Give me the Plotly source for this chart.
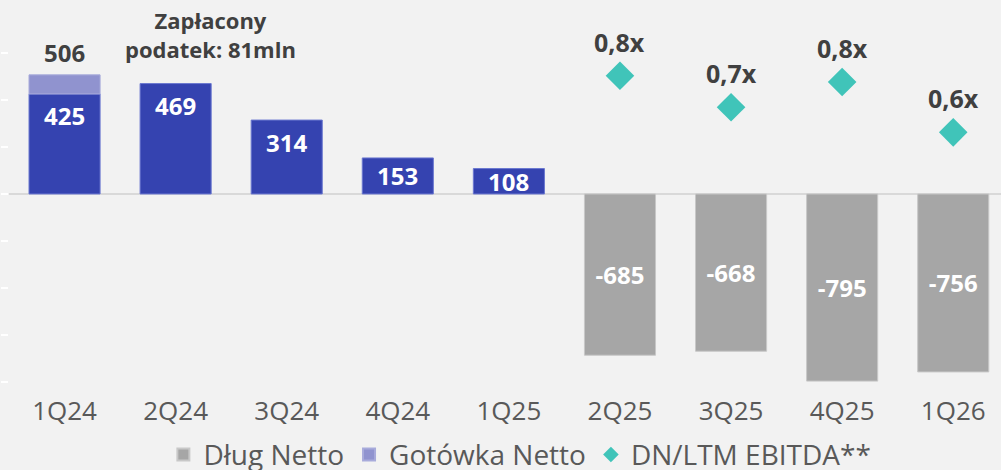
import plotly.graph_objects as go

categories = ["1Q24", "2Q24", "3Q24", "4Q24", "1Q25", "2Q25", "3Q25", "4Q25", "1Q26"]
cash_main = [425, 469, 314, 153, 108, None, None, None, None]
cash_extra = [81, None, None, None, None, None, None, None, None]
net_debt = [None, None, None, None, None, -685, -668, -795, -756]
leverage = [None, None, None, None, None, 0.78, 0.68, 0.76, 0.60]
total_1q24 = 506
tax_note = "Zapłacony<br>podatek: 81mln"

FONT = "Open Sans"
DARK = "#404040"
AX = "#595959"

W, H = 1001, 470
M_L, M_R, M_T, M_B = 9, 0, 0, 83
Y_RANGE = [-820, 824]
PX_PER_UNIT = (H - M_T - M_B) / (Y_RANGE[1] - Y_RANGE[0])

fig = go.Figure()

fig.add_trace(go.Bar(
    x=categories, y=cash_main, name="Gotówka Netto (q)", showlegend=False,
    marker=dict(color="#3543b0", line=dict(color="#6b78d0", width=1)),
    width=0.64,
))
fig.add_trace(go.Bar(
    x=categories, y=cash_extra, name="Gotówka Netto", legendrank=2,
    marker=dict(color="#9093cf", line=dict(color="#a8abdb", width=1)),
    width=0.64,
))
fig.add_trace(go.Bar(
    x=categories, y=net_debt, name="Dług Netto", legendrank=1,
    marker=dict(color="#a6a6a6", line=dict(color="#c8c8c8", width=1)),
    text=[("" if v is None else str(v)) for v in net_debt],
    textposition="inside", insidetextanchor="middle",
    textfont=dict(family=FONT, size=24, color="white", weight="bold"),
    width=0.64,
))
fig.add_trace(go.Scatter(
    x=categories, y=leverage, name="DN/LTM EBITDA**", legendrank=3,
    mode="markers", yaxis="y2",
    marker=dict(symbol="diamond", size=22, color="#40c4b9"),
))

annotations = []
# labels inside the dark bars, near the top (centred if the bar is short)
for c, v in zip(categories, cash_main):
    if v is None:
        continue
    half = v * PX_PER_UNIT / 2
    annotations.append(dict(
        x=c, y=v, xref="x", yref="y", yshift=-min(22, half), showarrow=False,
        text=str(v), font=dict(family=FONT, size=24, color="white", weight="bold"),
    ))
for c, v in zip(categories, leverage):
    if v is None:
        continue
    annotations.append(dict(
        x=c, y=v, yref="y2", xref="x", yshift=34, showarrow=False,
        text=f"{v:.1f}".replace(".", ",") + "x",
        font=dict(family=FONT, size=25, color=DARK, weight="bold"),
    ))
annotations.append(dict(
    x=categories[0], y=total_1q24, xref="x", yref="y", yshift=22, showarrow=False,
    text=str(total_1q24), font=dict(family=FONT, size=24, color=DARK, weight="bold"),
))
annotations.append(dict(
    x=1.31, y=0.91, xref="x", yref="paper", yanchor="middle", showarrow=False,
    text=tax_note, align="center",
    font=dict(family=FONT, size=22, color=DARK, weight="bold"),
))

fig.update_layout(
    width=W, height=H,
    margin=dict(l=M_L, r=M_R, t=M_T, b=M_B, autoexpand=False),
    paper_bgcolor="#f2f2f2", plot_bgcolor="#f2f2f2",
    barmode="relative", bargap=0.36,
    font=dict(family=FONT, color=AX),
    xaxis=dict(
        type="category", range=[-0.5, 8.43], showgrid=False, showline=False,
        tickfont=dict(family=FONT, size=26, color=AX), automargin=False,
        ticks="outside", ticklen=1, tickcolor="rgba(0,0,0,0)",
    ),
    yaxis=dict(
        range=Y_RANGE, showgrid=False, zeroline=True, zerolinecolor="#d9d9d9",
        zerolinewidth=2, showticklabels=False, ticks="outside", ticklen=7,
        tickcolor="white", tickwidth=2, automargin=False,
        tickvals=[-800, -600, -400, -200, 0, 200, 400, 600],
    ),
    yaxis2=dict(
        overlaying="y", side="right", range=[-0.210, 1.021], visible=False,
    ),
    legend=dict(
        orientation="h", x=0.515, xanchor="center", y=-0.175, yanchor="middle",
        font=dict(family=FONT, size=28, color=AX), bgcolor="rgba(0,0,0,0)",
        itemsizing="constant", itemwidth=30,
    ),
    annotations=annotations,
    showlegend=True,
)

fig.write_html(
    "out.html",
    config={"displayModeBar": False},
    post_script="document.body.style.margin='0';document.body.style.background='#f2f2f2';",
)
